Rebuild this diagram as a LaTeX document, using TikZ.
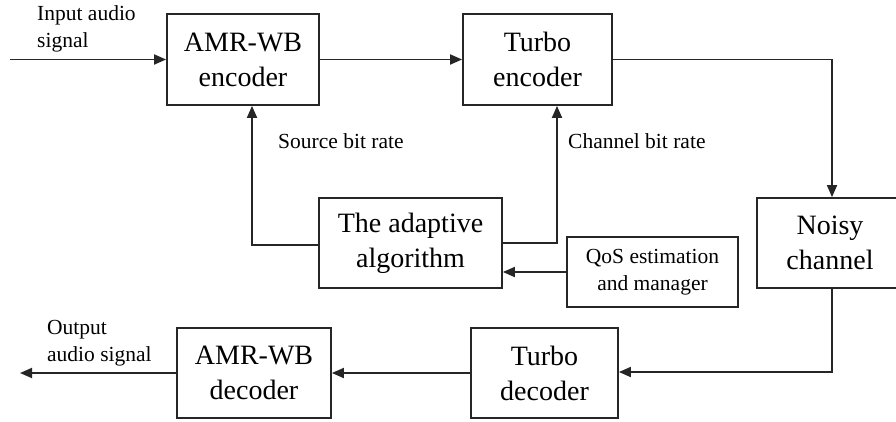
\documentclass[tikz,border=0pt]{standalone}
\usepackage{fontspec}
\setmainfont{Liberation Serif}
\usetikzlibrary{arrows.meta}
\tikzset{
  blk/.style={draw=black!85, line width=1.8pt, inner sep=0pt, align=center,
    font=\fontsize{28}{35}\selectfont},
  smallblk/.style={draw=black!85, line width=1.8pt, inner sep=0pt, align=center,
    font=\fontsize{21.5}{27}\selectfont},
  lbl/.style={inner sep=0pt, font=\fontsize{21.5}{27}\selectfont, align=left},
  conn/.style={draw=black!85, line width=1.8pt,
    -{Triangle[length=12pt,width=10pt]}},
}
\begin{document}
\begin{tikzpicture}[x=1pt,y=-1pt]
\clip (0,0) rectangle (896,421);
\fill[white] (0,0) rectangle (896,421);
% blocks
\node[blk, minimum width=152pt, minimum height=91pt] (enc1) at (243,59.5) {AMR-WB\\encoder};
\node[blk, minimum width=149pt, minimum height=91pt] (enc2) at (537.5,59.5) {Turbo\\encoder};
\node[blk, minimum width=183pt, minimum height=90pt] (adapt) at (410.5,243) {The adaptive\\algorithm};
\node[smallblk, minimum width=171pt, minimum height=70pt] (qos) at (652.5,272) {QoS estimation\\and manager};
\node[blk, minimum width=146pt, minimum height=90pt] (noisy) at (830,243) {Noisy\\channel};
\node[blk, minimum width=147pt, minimum height=90pt] (dec2) at (544.5,373) {Turbo\\decoder};
\node[blk, minimum width=154pt, minimum height=90pt] (dec1) at (254,373) {AMR-WB\\decoder};
% free ends and bends
\coordinate (in) at (10,59.5);
\coordinate (out) at (20,373);
\coordinate (b1) at (832,59.5);
\coordinate (b2) at (252,245);
\coordinate (b3) at (557,243);
\coordinate (b4) at (832,372);
% connectors
\draw[conn] (in) -- (enc1.west);
\draw[conn] (enc1.east) -- (enc2.west);
\draw[conn] (enc2.east) -- (b1) -- (b1 |- noisy.north);
\draw[conn] (adapt.west |- b2) -- (b2) -- (b2 |- enc1.south);
\draw[conn] (adapt.east |- b3) -- (b3) -- (b3 |- enc2.south);
\draw[conn] (qos.west) -- (qos.west -| adapt.east);
\draw[conn] (b4 |- noisy.south) -- (b4) -- (b4 -| dec2.east);
\draw[conn] (dec2.west) -- (dec1.east);
\draw[conn] (dec1.west) -- (out);
% labels
\node[lbl, anchor=base west] (l1) at (37,47) {Input audio\\signal};
\node[lbl, anchor=base west] (l2) at (278,148) {Source bit rate};
\node[lbl, anchor=base west] (l3) at (568,148) {Channel bit rate};
\node[lbl, anchor=base west] (l4) at (47,361) {Output\\audio signal};
\end{tikzpicture}
\end{document}
